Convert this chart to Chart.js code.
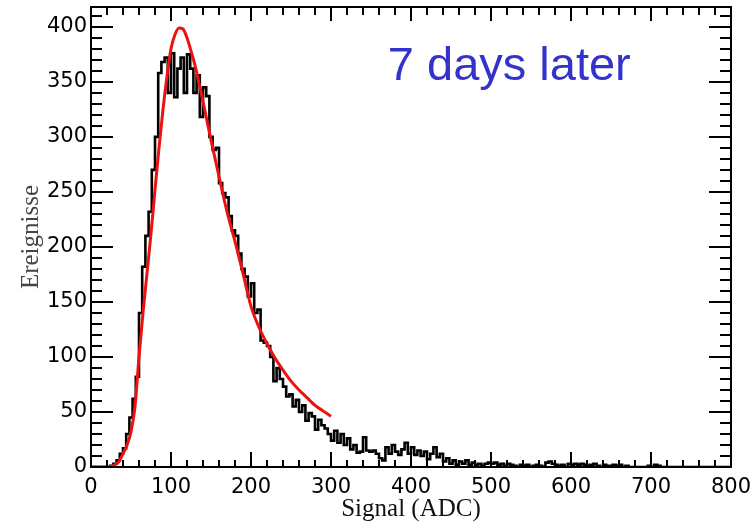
<!DOCTYPE html>
<html>
<head>
    <title>Signal spectrum</title>
    <script src="https://cdn.jsdelivr.net/npm/chart.js"></script>
    <style>
        body { margin: 0; background: #fff; }
    </style>
</head>
<body>
    <canvas id="spectrum" width="754" height="524"></canvas>

    <script>
        // histogram counts, one entry per 4 ADC bin starting at 0
        const binWidth = 4;
        const counts = [
            0, 0, 0, 0, 0, 0, 0, 1, 3, 6,                 // 0 - 36
            12, 17, 30, 45, 62, 82, 140, 182, 210, 232,   // 40 - 76
            270, 300, 358, 368, 372, 340, 376, 336, 362, 372, // 80 - 116
            340, 375, 362, 340, 356, 318, 345, 337, 300, 288, // 120 - 156
            290, 258, 249, 245, 228, 215, 210, 194, 180, 173, // 160 - 196
            155, 167, 140, 143, 115, 113, 110, 100, 78, 90,   // 200 - 236
            80, 73, 64, 66, 55, 61, 50, 56, 42, 49,           // 240 - 276
            46, 34, 43, 38, 35, 30, 24, 33, 22, 30,           // 280 - 316
            20, 26, 16, 20, 13, 14, 27, 15, 14, 15,           // 320 - 356
            12, 8, 6, 18, 12, 20, 14, 11, 16, 22,             // 360 - 396
            12, 18, 11, 15, 10, 14, 7, 12, 18, 9,             // 400 - 436
            12, 5, 8, 3, 6, 2, 5, 3, 6, 2,                    // 440 - 476
            4, 2, 3, 1, 3, 4, 3, 4, 2, 3,                     // 480 - 516
            1, 3, 2, 1, 0, 2, 1, 2, 0, 1,                     // 520 - 556
            2, 1, 0, 4, 5, 3, 2, 1, 2, 0,                     // 560 - 596
            3, 2, 3, 2, 3, 2, 1, 2, 3, 1,                     // 600 - 636
            0, 2, 1, 1, 2, 1, 2, 0, 1, 0,                     // 640 - 676
            0, 0, 0, 0, 0, 1, 0, 2, 1, 0,                     // 680 - 716
            0, 0, 0, 0, 0, 0, 0, 0, 0, 0,                     // 720 - 756
            0, 0, 0, 0, 0, 0, 0, 0, 0, 0                      // 760 - 796
        ];

        // fitted curve, only defined up to 300 ADC
        const fitX = [0, 10, 20, 25, 30, 35, 40, 45, 50, 55, 60, 65, 70, 75, 80, 85, 90, 95, 100, 105,
                      110, 115, 120, 125, 130, 140, 150, 160, 170, 180, 190, 200, 210, 220, 230, 240,
                      250, 260, 270, 280, 290, 300];
        const fitY = [0, 0, 0, 0.5, 2, 5, 12, 20, 32, 55, 100, 140, 176, 212, 252, 290, 325, 355, 380, 393,
                      399, 398, 390, 378, 365, 332, 297, 264, 232, 205, 176, 146, 127, 112, 99, 88,
                      78, 70, 63, 56, 51, 46];

        const xTicks = [0, 100, 200, 300, 400, 500, 600, 700, 800];
        const yTicks = [0, 50, 100, 150, 200, 250, 300, 350, 400];
        const xMinorStep = 20;
        const yMinorStep = 10;
        const yMax = 418;

        const note = '7 days later';
        const noteAt = { x: 371, y: 352 };

        const histPoints = counts.map((c, i) => ({ x: i * binWidth, y: c }));
        histPoints.push({ x: counts.length * binWidth, y: counts[counts.length - 1] });
        const fitPoints = fitX.map((x, i) => ({ x: x, y: fitY[i] }));

        // frame with inward ticks on all four sides, plus the text label
        const framePlugin = {
            id: 'frame',
            afterDraw(chart) {
                const ctx = chart.ctx;
                const a = chart.chartArea;
                const xs = chart.scales.x;
                const ys = chart.scales.y;
                ctx.save();
                ctx.strokeStyle = '#000';
                ctx.lineWidth = 2;
                ctx.strokeRect(a.left, a.top, a.right - a.left, a.bottom - a.top);

                ctx.beginPath();
                for (let v = 0; v <= xs.max; v += xMinorStep) {
                    const px = Math.round(xs.getPixelForValue(v));
                    const major = xTicks.includes(v);
                    ctx.moveTo(px, a.bottom);
                    ctx.lineTo(px, a.bottom - (major ? 15 : 7));
                    ctx.moveTo(px, a.top);
                    ctx.lineTo(px, a.top + (major ? 14 : 8));
                }
                for (let v = 0; v <= ys.max; v += yMinorStep) {
                    const py = Math.round(ys.getPixelForValue(v));
                    const major = yTicks.includes(v);
                    ctx.moveTo(a.left, py);
                    ctx.lineTo(a.left + (major ? 22 : 11), py);
                    ctx.moveTo(a.right, py);
                    ctx.lineTo(a.right - (major ? 22 : 11), py);
                }
                ctx.stroke();

                ctx.fillStyle = '#3333cc';
                ctx.font = '47px "Liberation Sans", Arial, sans-serif';
                ctx.textBaseline = 'alphabetic';
                ctx.textAlign = 'left';
                ctx.fillText(note, xs.getPixelForValue(noteAt.x), ys.getPixelForValue(noteAt.y));
                ctx.restore();
            }
        };

        const tickFont = { family: '"DejaVu Sans", Verdana, sans-serif', size: 21 };

        const ctx = document.getElementById('spectrum').getContext('2d');
        const chart = new Chart(ctx, {
            type: 'line',
            data: {
                datasets: [
                    {
                        label: 'Fit',
                        data: fitPoints,
                        borderColor: '#ee1111',
                        borderWidth: 3,
                        pointRadius: 0,
                        cubicInterpolationMode: 'monotone',
                        fill: false
                    },
                    {
                        label: 'Ereignisse',
                        data: histPoints,
                        borderColor: '#000',
                        borderWidth: 2.6,
                        pointRadius: 0,
                        stepped: 'after',
                        fill: false
                    }
                ]
            },
            options: {
                responsive: false,
                animation: false,
                layout: { padding: { top: 7, right: 23, left: 0, bottom: 0 } },
                plugins: {
                    legend: { display: false },
                    tooltip: { enabled: false }
                },
                scales: {
                    x: {
                        type: 'linear',
                        min: 0,
                        max: 800,
                        grid: { display: false, drawTicks: false },
                        border: { display: false },
                        afterBuildTicks: s => { s.ticks = xTicks.map(v => ({ value: v })); },
                        afterFit: s => { s.height = 57; s.paddingLeft = 0; s.paddingRight = 0; },
                        ticks: { font: tickFont, color: '#000', padding: 8, maxRotation: 0, autoSkip: false },
                        title: {
                            display: true,
                            text: 'Signal (ADC)',
                            font: { family: '"Liberation Serif", "Times New Roman", serif', size: 25 },
                            color: '#111',
                            padding: { top: 0, bottom: 0 }
                        }
                    },
                    y: {
                        min: 0,
                        max: yMax,
                        grid: { display: false, drawTicks: false },
                        border: { display: false },
                        afterBuildTicks: s => { s.ticks = yTicks.map(v => ({ value: v })); },
                        afterFit: s => { s.width = 91; s.paddingTop = 0; s.paddingBottom = 0; },
                        ticks: { font: tickFont, color: '#000', padding: 4 },
                        title: {
                            display: true,
                            text: 'Ereignisse',
                            font: { family: '"Liberation Serif", "Times New Roman", serif', size: 25 },
                            color: '#444',
                            padding: { top: 16, bottom: 0 }
                        }
                    }
                }
            },
            plugins: [framePlugin]
        });
    </script>
</body>
</html>
